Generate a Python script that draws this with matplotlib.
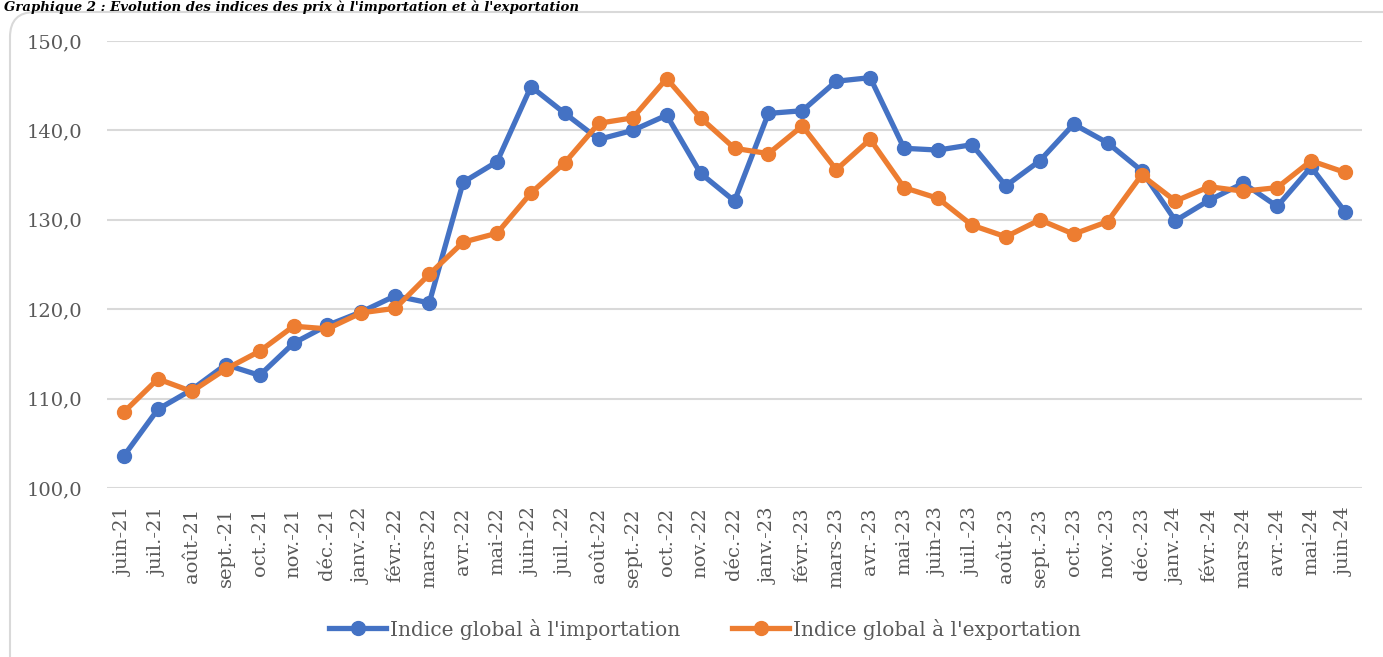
import matplotlib.pyplot as plt
from matplotlib.patches import FancyBboxPatch

mois = ['juin-21', 'juil.-21', 'août-21', 'sept.-21', 'oct.-21', 'nov.-21', 'déc.-21',
        'janv.-22', 'févr.-22', 'mars-22', 'avr.-22', 'mai-22', 'juin-22', 'juil.-22',
        'août-22', 'sept.-22', 'oct.-22', 'nov.-22', 'déc.-22', 'janv.-23', 'févr.-23',
        'mars-23', 'avr.-23', 'mai-23', 'juin-23', 'juil.-23', 'août-23', 'sept.-23',
        'oct.-23', 'nov.-23', 'déc.-23', 'janv.-24', 'févr.-24', 'mars-24', 'avr.-24',
        'mai-24', 'juin-24']

importation = [103.6, 108.8, 111.0, 113.8, 112.6, 116.2, 118.2, 119.7, 121.5, 120.7,
               134.2, 136.5, 144.9, 141.9, 139.0, 140.0, 141.7, 135.2, 132.1, 141.9,
               142.2, 145.5, 145.9, 138.0, 137.8, 138.4, 133.8, 136.6, 140.7, 138.6,
               135.5, 129.9, 132.2, 134.1, 131.5, 135.9, 130.9]

exportation = [108.5, 112.2, 110.8, 113.3, 115.3, 118.1, 117.8, 119.6, 120.1, 123.9,
               127.5, 128.5, 133.0, 136.4, 140.8, 141.4, 145.8, 141.4, 138.0, 137.4,
               140.5, 135.6, 139.0, 133.6, 132.4, 129.4, 128.1, 130.0, 128.4, 129.8,
               135.0, 132.1, 133.7, 133.2, 133.6, 136.6, 135.3]

titre = "Graphique 2 : Evolution des indices des prix à l'importation et à l'exportation"

plt.rcParams['font.family'] = ['DejaVu Serif']

fig = plt.figure(figsize=(13.83, 6.57), dpi=100)

# cadre arrondi du graphique (coupé à droite et en bas)
cadre = FancyBboxPatch((0.10, -0.3), 14.2, 6.75, boxstyle='round,pad=0,rounding_size=0.25',
                       transform=fig.dpi_scale_trans, facecolor='white',
                       edgecolor='#D9D9D9', linewidth=1.5, zorder=-1)
fig.patches.append(cadre)

fig.text(4 / 1383, 656 / 657, titre, ha='left', va='top', fontsize=9.5,
         fontweight='bold', fontstyle='italic', color='black')

ax = fig.add_axes([107 / 1383, 1 - 488 / 657, (1362 - 107) / 1383, (488 - 41) / 657])
ax.set_zorder(2)
ax.set_facecolor('none')

x = range(len(mois))
ax.plot(x, importation, color='#4472C4', lw=3.8, marker='o', ms=10,
        label="Indice global à l'importation", zorder=3)
ax.plot(x, exportation, color='#ED7D31', lw=3.8, marker='o', ms=10,
        label="Indice global à l'exportation", zorder=4)

ax.set_xlim(-0.5, len(mois) - 0.5)
ax.set_ylim(100, 150)
ax.set_yticks([100, 110, 120, 130, 140, 150])
ax.set_yticklabels([f'{v:.1f}'.replace('.', ',') for v in ax.get_yticks()])
ax.set_xticks(list(x))
ax.set_xticklabels(mois, rotation=90)
ax.tick_params(axis='both', length=0, labelsize=14, colors='#595959')
ax.tick_params(axis='x', pad=14)
ax.tick_params(axis='y', pad=18)
ax.grid(axis='y', color='#D9D9D9', lw=1.5)
ax.set_axisbelow(True)
for s in ax.spines.values():
    s.set_visible(False)

fig.legend(loc='center', bbox_to_anchor=(705 / 1383, 1 - 629 / 657), ncol=2,
           frameon=False, fontsize=14.5, handlelength=2.8, handletextpad=0.2,
           columnspacing=2.6, labelcolor='#595959')

fig.savefig('out.png', dpi=100)
